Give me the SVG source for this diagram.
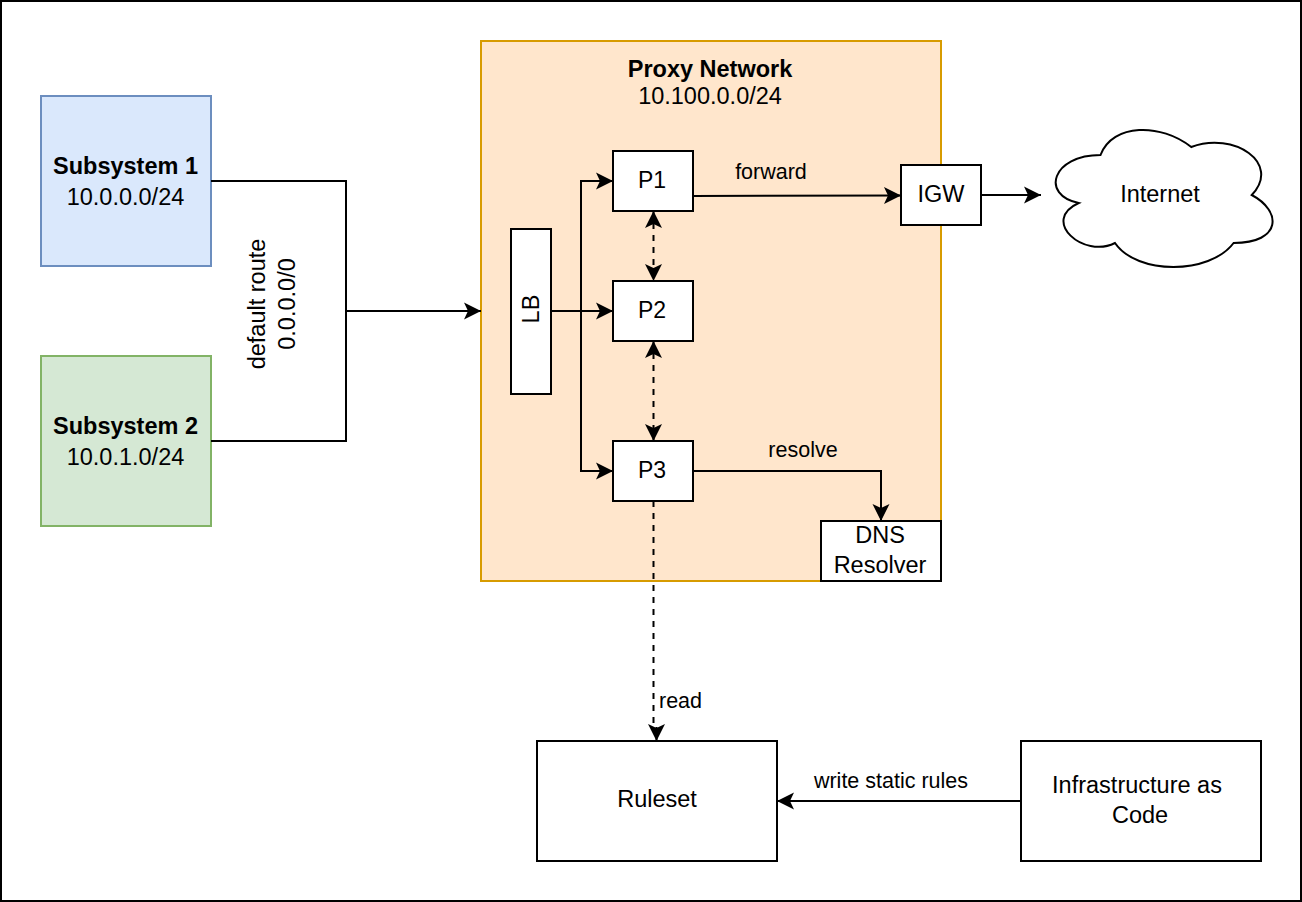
<svg xmlns="http://www.w3.org/2000/svg" width="1302" height="902" viewBox="0 0 1302 902">
<defs>
<marker id="arr" viewBox="-18 -10 20 20" markerWidth="20" markerHeight="20" refX="0" refY="0" markerUnits="userSpaceOnUse" orient="auto-start-reverse">
<path d="M0,0 L-17,-8.5 L-13,0 L-17,8.5 Z" fill="#000"/>
</marker>
<style>
text{font-family:"Liberation Sans",Arial,sans-serif;fill:#000}
.n{font-size:23.5px;text-anchor:middle}
.p{font-size:23px;text-anchor:middle}
.b{font-weight:bold}
.l{font-size:21.5px;text-anchor:middle}
.box{fill:#fff;stroke:#000;stroke-width:2}
.e{fill:none;stroke:#000;stroke-width:2}
.d{stroke-dasharray:6 6}
</style>
</defs>
<rect x="1" y="1" width="1300" height="900" fill="#fff" stroke="#000" stroke-width="2"/>

<g id="proxy-network">
<rect x="481" y="41" width="460" height="540" fill="#ffe6cc" stroke="#d79b00" stroke-width="2"/>
<text class="n b" x="710" y="77">Proxy Network</text>
<text class="n" x="710" y="104">10.100.0.0/24</text>
</g>

<g id="subsystem1">
<rect x="41" y="96" width="170" height="170" fill="#dae8fc" stroke="#6c8ebf" stroke-width="2"/>
<text class="n b" x="125.5" y="173.5">Subsystem 1</text>
<text class="n" x="125.5" y="204.5">10.0.0.0/24</text>
</g>

<g id="subsystem2">
<rect x="41" y="356" width="170" height="170" fill="#d5e8d4" stroke="#82b366" stroke-width="2"/>
<text class="n b" x="125.5" y="433.5">Subsystem 2</text>
<text class="n" x="125.5" y="464.5">10.0.1.0/24</text>
</g>

<g id="lb">
<rect class="box" x="511" y="229" width="40" height="165"/>
<text class="n" transform="translate(538.5,309) rotate(-90)" x="0" y="0">LB</text>
</g>

<g id="p1">
<rect class="box" x="613" y="151" width="80" height="60"/>
<text class="p" x="652" y="188">P1</text>
</g>
<g id="p2">
<rect class="box" x="613" y="281" width="80" height="60"/>
<text class="p" x="652" y="318">P2</text>
</g>
<g id="p3">
<rect class="box" x="613" y="441" width="80" height="60"/>
<text class="p" x="652" y="478">P3</text>
</g>

<g id="igw">
<rect class="box" x="901" y="165" width="80" height="60"/>
<text class="n" x="941" y="201.5">IGW</text>
</g>

<g id="dns-resolver">
<rect class="box" x="821" y="521" width="120" height="60"/>
<text class="n" x="880" y="543">DNS</text>
<text class="n" x="880" y="573">Resolver</text>
</g>

<g id="internet">
<path class="box" d="M1100.5,155 C1052.1,155 1040,195 1078.7,203 C1040,220.6 1083.6,259 1115,243 C1136.8,275 1209.4,275 1233.6,243 C1282,243 1282,211 1251.75,195 C1282,163 1233.6,131 1191.25,147 C1161,123 1112.6,123 1100.5,155 Z"/>
<text class="n" x="1160" y="201.5">Internet</text>
</g>

<g id="ruleset">
<rect class="box" x="537" y="741" width="240" height="120"/>
<text class="n" x="657" y="807">Ruleset</text>
</g>

<g id="iac">
<rect class="box" x="1021" y="741" width="240" height="120"/>
<text class="n" x="1137" y="793">Infrastructure as</text>
<text class="n" x="1140" y="823">Code</text>
</g>

<g id="connectors">
<path class="e" d="M211,181 H346 V311 H481" marker-end="url(#arr)"/>
<path class="e" d="M211,441 H346 V311"/>
<text class="n" transform="translate(265,304) rotate(-90)" x="0" y="0">default route</text>
<text class="n" transform="translate(295,304) rotate(-90)" x="0" y="0">0.0.0.0/0</text>

<path class="e" d="M551,311 H613" marker-end="url(#arr)"/>
<path class="e" d="M581,311 V181 H613" marker-end="url(#arr)"/>
<path class="e" d="M581,311 V471 H613" marker-end="url(#arr)"/>

<path class="e d" d="M653.5,211 V281" marker-start="url(#arr)" marker-end="url(#arr)"/>
<path class="e d" d="M653.5,341 V441" marker-start="url(#arr)" marker-end="url(#arr)"/>

<path class="e" d="M693,196 L901,195.5" marker-end="url(#arr)"/>
<text class="l" x="771" y="179">forward</text>

<path class="e" d="M981,195 H1041" marker-end="url(#arr)"/>

<path class="e" d="M693,471 H881 V521" marker-end="url(#arr)"/>
<text class="l" x="803" y="457">resolve</text>

<path class="e d" d="M653.5,501 V728"/>
<path class="e" d="M656.5,727 V741" stroke="none" marker-end="url(#arr)"/>
<text class="l" x="659" y="708" style="text-anchor:start">read</text>

<path class="e" d="M1021,801 H777" marker-end="url(#arr)"/>
<text class="l" x="891" y="788">write static rules</text>
</g>
</svg>
